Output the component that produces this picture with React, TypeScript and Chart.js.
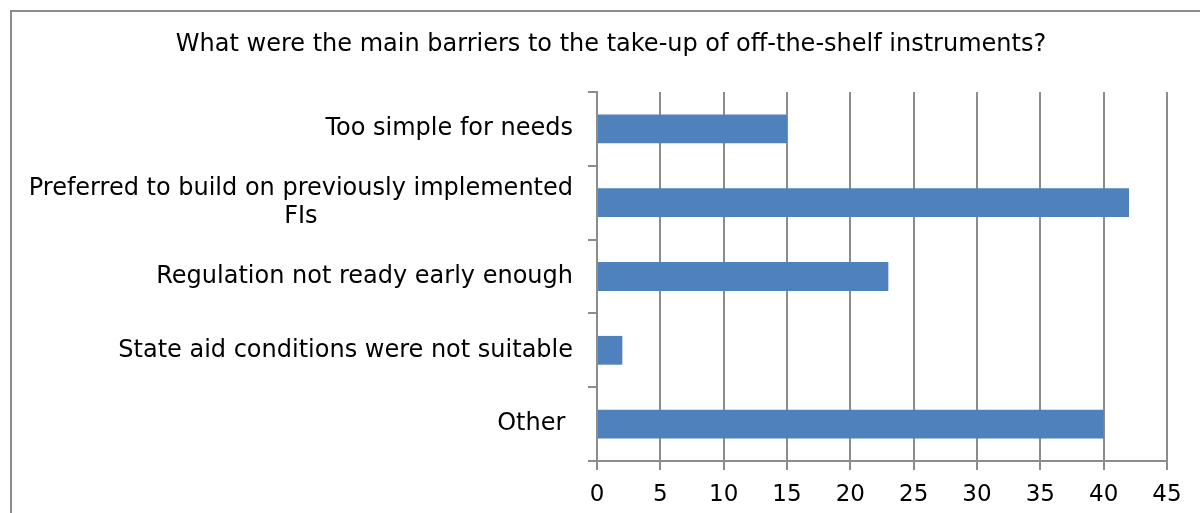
import React, { useEffect, useRef } from "react";
import { Chart, registerables } from "chart.js";
Chart.register(...registerables);

const TITLE = "What were the main barriers to the take-up of off-the-shelf instruments?";
const CATEGORIES: string[][] = [
  ["Too simple for needs"],
  ["Preferred to build on previously implemented", "FIs"],
  ["Regulation not ready early enough"],
  ["State aid conditions were not suitable"],
  ["Other "],
];
const VALUES: number[] = [15, 42, 23, 2, 40];
const X_MIN = 0;
const X_MAX = 45;
const X_STEP = 5;

const FONT = "'DejaVu Sans', Verdana, sans-serif";
const GRID = "#8c8c8c";

const framePlugin = {
  id: "frame",
  beforeDraw(chart: any) {
    const ctx = chart.ctx;
    ctx.save();
    ctx.fillStyle = "#ffffff";
    ctx.fillRect(0, 0, chart.width, chart.height);
    ctx.restore();
  },
  afterDraw(chart: any) {
    const ctx = chart.ctx;
    ctx.save();
    ctx.strokeStyle = GRID;
    ctx.lineWidth = 2;
    ctx.strokeRect(11, 11, 1400, 800);
    // title
    ctx.fillStyle = "#000";
    ctx.font = `24px ${FONT}`;
    ctx.textAlign = "center";
    ctx.textBaseline = "middle";
    ctx.fillText(TITLE, 611, 45);
    // y labels (block right-aligned, lines centered within block)
    const y = chart.scales.y;
    const labels = chart.data.labels as string[][];
    const right = chart.chartArea.left - 24;
    const lh = 28;
    labels.forEach((lines, i) => {
      const cy = y.getPixelForValue(i);
      const widths = lines.map((l) => ctx.measureText(l).width);
      const maxW = Math.max(...widths);
      const cx = right - maxW / 2;
      const top = cy - ((lines.length - 1) * lh) / 2;
      lines.forEach((l, j) => {
        ctx.fillText(l, cx, top + j * lh);
      });
    });
    ctx.restore();
  },
};

export default function App() {
  const ref = useRef<HTMLCanvasElement | null>(null);
  useEffect(() => {
    document.body.style.margin = "0";
    document.body.style.overflow = "hidden";
    const chart = new Chart(ref.current!, {
      type: "bar",
      data: {
        labels: CATEGORIES as any,
        datasets: [
          {
            data: VALUES,
            backgroundColor: "#4F81BD",
            barPercentage: 0.39,
            categoryPercentage: 1,
          },
        ],
      },
      options: {
        indexAxis: "y",
        animation: false,
        responsive: false,
        devicePixelRatio: 1,
        layout: { padding: { top: 92, right: 33, left: 0, bottom: 0 } },
        plugins: { legend: { display: false }, title: { display: false }, tooltip: { enabled: false } },
        scales: {
          x: {
            type: "linear",
            min: X_MIN,
            max: X_MAX,
            ticks: { stepSize: X_STEP, color: "#000", font: { family: FONT, size: 23 }, padding: 11 },
            grid: { color: GRID, lineWidth: 2, tickLength: 9, drawTicks: true },
            border: { display: true, color: GRID, width: 2 },
            afterFit: (s: any) => { s.height = 52; },
          },
          y: {
            type: "category",
            offset: true,
            ticks: { display: false },
            grid: { offset: true, drawOnChartArea: false, color: GRID, lineWidth: 2, tickLength: 9 },
            border: { display: true, color: GRID, width: 2 },
            afterFit: (s: any) => { s.width = 597; },
          },
        },
      },
      plugins: [framePlugin],
    });
    return () => chart.destroy();
  }, []);
  return (
    <div style={{ position: "fixed", left: 0, top: 0, width: 1200, height: 513 }}>
      <canvas ref={ref} width={1200} height={513} />
    </div>
  );
}
